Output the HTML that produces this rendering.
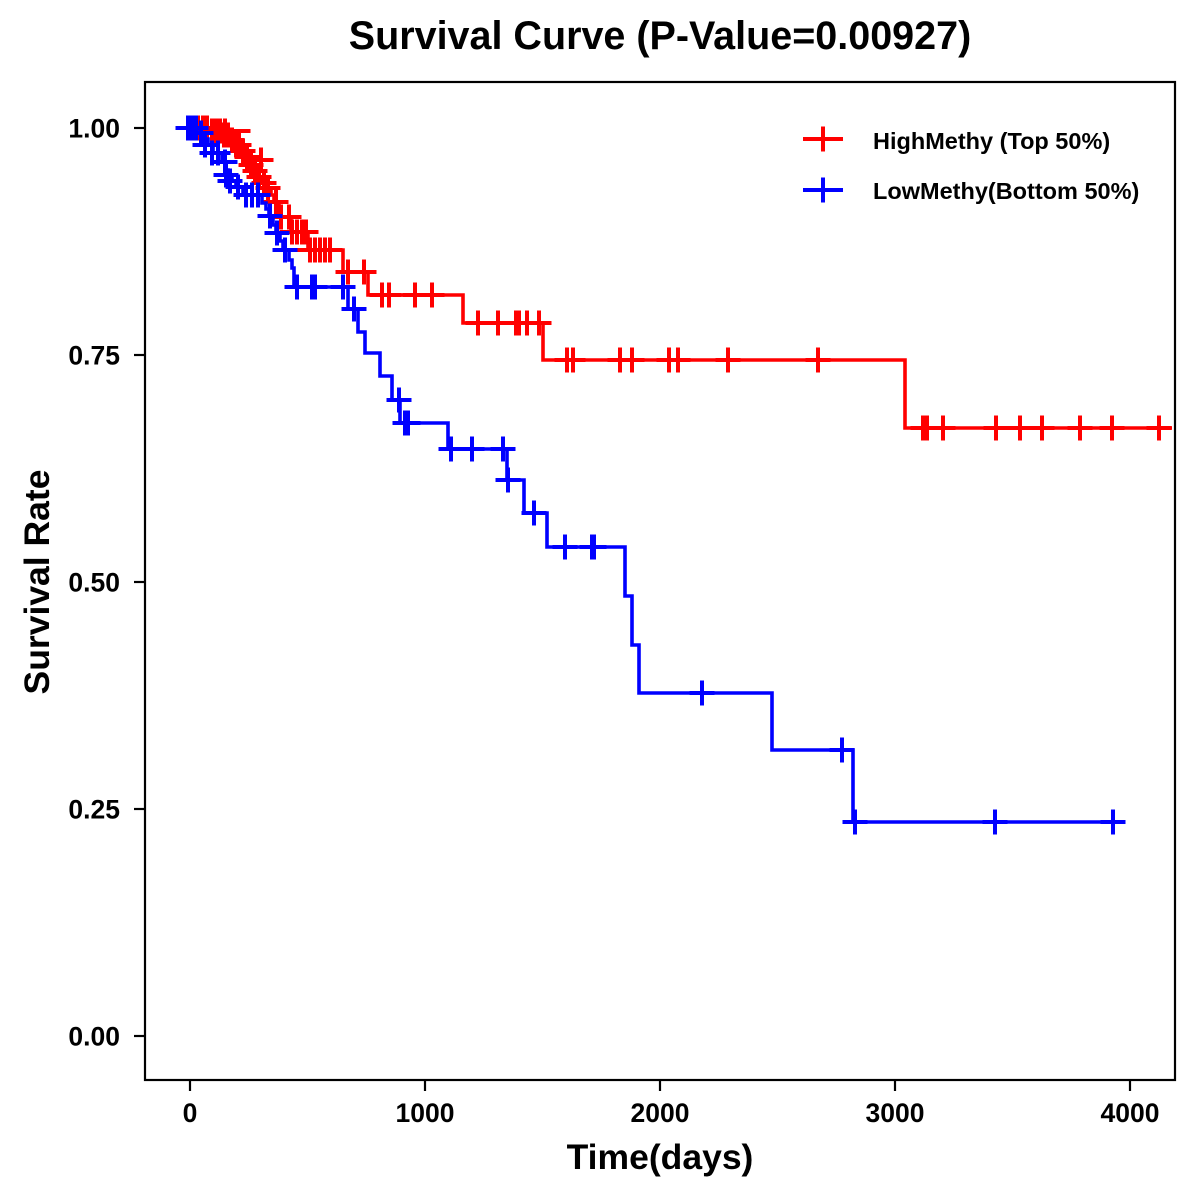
<!DOCTYPE html>
<html>
<head>
<meta charset="utf-8">
<style>
  html,body{margin:0;padding:0;background:#fff;}
  svg{display:block;}
  text{font-family:"Liberation Sans",Arial,sans-serif;font-weight:bold;fill:#000;}
</style>
</head>
<body>
<svg width="1200" height="1200" viewBox="0 0 1200 1200" xmlns="http://www.w3.org/2000/svg">
  <rect x="0" y="0" width="1200" height="1200" fill="#fff"/>
  <!-- Title -->
  <text x="660" y="49" font-size="39.5" text-anchor="middle">Survival Curve (P-Value=0.00927)</text>

  <!-- Red curve -->
  <path fill="none" stroke="#FF0000" stroke-width="3.6" stroke-linejoin="miter"
    d="M190,128 H209 V131 H222 V135 H230 V140 H234 V145 H241 V151 H245 V157 H249 V165 H253 V171 H257 V177 H261 V183 H266 V188 H271 V195 H274 V202 H279 V217 H291 V232 H308 V250 H343 V272 H368 V295 H463 V323 H543 V360 H905 V428 H1172"/>
  <path fill="none" stroke="#FF0000" stroke-width="4"
    d="M185.5,128h25M198,115.5v25 M190.5,128h25M203,115.5v25 M194.5,128h25M207,115.5v25
       M199.5,131h25M212,118.5v25 M203.5,131h25M216,118.5v25 M207.5,131h25M220,118.5v25
       M211.5,135h25M224,122.5v25 M215.5,135h25M228,122.5v25
       M219.5,140h25M232,127.5v25
       M223.5,145h25M236,132.5v25 M226.5,145h25M239,132.5v25
       M230.5,151h25M243,138.5v25
       M234.5,157h25M247,144.5v25
       M238.5,165h25M251,152.5v25
       M242.5,171h25M255,158.5v25
       M246.5,177h25M259,164.5v25
       M251.5,183h25M264,170.5v25
       M255.5,188h25M268,175.5v25
       M263.5,202h25M276,189.5v25
       M268.5,217h25M281,204.5v25 M276.5,217h25M289,204.5v25
       M279.5,232h25M292,219.5v25 M284.5,232h25M297,219.5v25 M289.5,232h25M302,219.5v25 M293.5,232h25M306,219.5v25
       M297.5,250h25M310,237.5v25 M302.5,250h25M315,237.5v25 M307.5,250h25M320,237.5v25 M312.5,250h25M325,237.5v25 M317.5,250h25M330,237.5v25
       M335.5,272h25M348,259.5v25 M351.5,272h25M364,259.5v25
       M369.5,295h25M382,282.5v25 M376.5,295h25M389,282.5v25 M402.5,295h25M415,282.5v25 M419.5,295h25M432,282.5v25
       M465.5,323h25M478,310.5v25 M485.5,323h25M498,310.5v25 M503.5,323h25M516,310.5v25 M506.5,323h25M519,310.5v25 M514.5,323h25M527,310.5v25 M526.5,323h25M539,310.5v25
       M554.5,360h25M567,347.5v25 M560.5,360h25M573,347.5v25 M607.5,360h25M620,347.5v25 M619.5,360h25M632,347.5v25 M656.5,360h25M669,347.5v25 M665.5,360h25M678,347.5v25 M715.5,360h25M728,347.5v25 M805.5,360h25M818,347.5v25
       M910.5,428h25M923,415.5v25 M914.5,428h25M927,415.5v25 M930.5,428h25M943,415.5v25 M983.5,428h25M996,415.5v25 M1007.5,428h25M1020,415.5v25 M1029.5,428h25M1042,415.5v25 M1067.5,428h25M1080,415.5v25 M1099.5,428h25M1112,415.5v25 M1146.5,428h25M1159,415.5v25
       M225.5,131h25M225,118.5v25 M248.5,160h25M261,147.5v25"/>

  <!-- Blue curve -->
  <path fill="none" stroke="#0000FF" stroke-width="3.6" stroke-linejoin="miter"
    d="M190,128 H200 V133 H204 V139 H208 V145 H213 V153 H222 V162 H225 V170 H228 V175 H232 V181 H236 V187 H243 V195 H262 V203 H266 V209 H269 V216 H273 V225 H276 V233 H280 V241 H283 V250 H289 V260 H292 V268 H294 V287 H348 V309 H358 V332 H365 V353 H380 V376 H392 V400 H400 V423 H448 V449 H507 V480 H524 V513 H547 V547 H625 V596 H632 V645 H639 V693 H772 V750 H853 V822 H1125"/>
  <path fill="none" stroke="#0000FF" stroke-width="4"
    d="M175.5,128h25M188,115.5v25 M179.5,128h25M192,115.5v25 M183.5,128h25M196,115.5v25
       M188.5,133h25M201,120.5v25
       M192.5,145h25M205,132.5v25
       M199.5,153h25M212,140.5v25 M205.5,153h25M218,140.5v25
       M212.5,162h25M225,149.5v25
       M213.5,175h25M226,162.5v25
       M217.5,181h25M230,168.5v25
       M225.5,187h25M238,174.5v25
       M233.5,195h25M246,182.5v25 M239.5,195h25M252,182.5v25 M245.5,195h25M258,182.5v25
       M257.5,216h25M270,203.5v25
       M264.5,233h25M277,220.5v25
       M272.5,250h25M285,237.5v25
       M284.5,287h25M297,274.5v25 M299.5,287h25M312,274.5v25 M302.5,287h25M315,274.5v25 M330.5,287h25M343,274.5v25
       M341.5,309h25M354,296.5v25
       M386.5,400h25M399,387.5v25
       M392.5,423h25M405,410.5v25 M395.5,423h25M408,410.5v25
       M438.5,449h25M451,436.5v25 M459.5,449h25M472,436.5v25 M490.5,449h25M503,436.5v25
       M495.5,480h25M508,467.5v25
       M521.5,513h25M534,500.5v25
       M552.5,547h25M565,534.5v25 M579.5,547h25M592,534.5v25 M581.5,547h25M594,534.5v25
       M689.5,693h25M702,680.5v25
       M829.5,750h25M842,737.5v25
       M842.5,822h25M855,809.5v25 M982.5,822h25M995,809.5v25 M1100.5,822h25M1113,809.5v25"/>

  <!-- Panel border -->
  <rect x="145" y="82" width="1030" height="998" fill="none" stroke="#000" stroke-width="2.2"/>

  <!-- Y ticks -->
  <g stroke="#000" stroke-width="2.2">
    <line x1="134" y1="128" x2="145" y2="128"/>
    <line x1="134" y1="355" x2="145" y2="355"/>
    <line x1="134" y1="582" x2="145" y2="582"/>
    <line x1="134" y1="809" x2="145" y2="809"/>
    <line x1="134" y1="1036" x2="145" y2="1036"/>
  </g>
  <g font-size="26.5" text-anchor="end">
    <text x="120" y="137.5">1.00</text>
    <text x="120" y="364.5">0.75</text>
    <text x="120" y="591.5">0.50</text>
    <text x="120" y="818.5">0.25</text>
    <text x="120" y="1045.5">0.00</text>
  </g>

  <!-- X ticks -->
  <g stroke="#000" stroke-width="2.2">
    <line x1="190" y1="1080" x2="190" y2="1091"/>
    <line x1="425" y1="1080" x2="425" y2="1091"/>
    <line x1="660" y1="1080" x2="660" y2="1091"/>
    <line x1="895" y1="1080" x2="895" y2="1091"/>
    <line x1="1130" y1="1080" x2="1130" y2="1091"/>
  </g>
  <g font-size="26.5" text-anchor="middle">
    <text x="190" y="1122">0</text>
    <text x="425" y="1122">1000</text>
    <text x="660" y="1122">2000</text>
    <text x="895" y="1122">3000</text>
    <text x="1130" y="1122">4000</text>
  </g>

  <!-- Axis titles -->
  <text x="660" y="1169" font-size="35.5" text-anchor="middle">Time(days)</text>
  <text x="0" y="0" font-size="35.5" text-anchor="middle" transform="translate(49,582) rotate(-90)">Survival Rate</text>

  <!-- Legend -->
  <g fill="none" stroke-width="4">
    <path stroke="#FF0000" d="M803,139 H843 M823,126.5 V151.5"/>
    <path stroke="#0000FF" d="M803,190 H843 M823,177.5 V202.5"/>
  </g>
  <g font-size="23.5">
    <text x="873" y="149">HighMethy (Top 50%)</text>
    <text x="873" y="199">LowMethy(Bottom 50%)</text>
  </g>
</svg>
</body>
</html>
